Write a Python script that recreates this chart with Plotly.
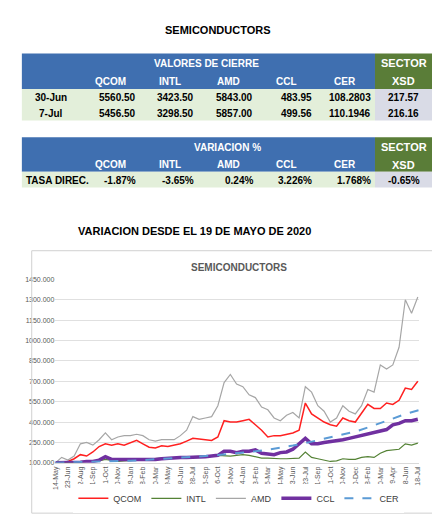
import plotly.graph_objects as go
import pandas as pd

W, H = 440, 518
cols = ["QCOM", "INTL", "AMD", "CCL", "CER"]
row_labels = ["30-Jun", "7-Jul"]
vals_30jun = ["5560.50", "3423.50", "5843.00", "483.95", "108.2803"]
vals_7jul = ["5456.50", "3298.50", "5857.00", "499.56", "110.1946"]
xsd_vals = ["217.57", "216.16"]
var_vals = ["-1.87%", "-3.65%", "0.24%", "3.226%", "1.768%"]
xsd_var = "-0.65%"

amd = [100,140,120,150,240,250,230,270,320,270,290,300,300,310,300,270,260,270,270,270,300,340,440,420,430,440,520,690,750,680,660,600,580,510,490,430,410,450,470,430,660,620,520,480,400,430,520,480,460,520,640,620,820,790,820,950,1300,1200,1320]
qcom = [100,105,110,130,160,150,180,220,240,230,240,230,250,265,240,215,210,225,220,230,240,260,280,275,270,265,290,410,400,400,410,420,380,340,290,300,300,310,320,340,540,460,430,400,380,370,430,410,400,470,530,500,500,540,530,560,650,640,700]
intl = [100,100,100,105,105,110,110,115,125,115,110,115,115,120,125,130,130,135,135,140,140,145,145,145,145,150,155,150,150,155,160,155,145,135,135,130,130,130,130,135,180,140,130,120,110,115,130,125,125,140,145,140,170,190,195,200,240,230,245]
ccl = [100,100,100,105,105,110,110,120,145,125,125,120,120,125,125,125,125,130,135,140,140,140,140,140,145,150,155,185,185,175,185,185,195,170,165,160,175,180,200,240,280,240,240,250,255,260,270,280,290,305,310,320,335,345,380,390,410,410,420]
cer = [100,102,105,107,110,112,115,120,125,130,135,142,150,157,165,175,185,197,210,227,245,265,285,307,330,360,390,425,460,485,510]

dates = pd.date_range("2020-05-14", periods=len(amd), freq="20D")
cer_dates = pd.date_range("2020-05-14", periods=len(cer), freq="40D")
tick_dates = pd.date_range("2020-05-14", periods=30, freq="40D")
tick_vals = [d.strftime("%Y-%m-%d") for d in tick_dates]
tick_text = [f"{d.day}-{d.strftime('%b')}" for d in tick_dates]

def px(x): return x / W
def py(y): return 1 - y / H

fig = go.Figure()
fig.add_trace(go.Scatter(x=dates, y=qcom, name="QCOM", mode="lines", line=dict(color="#ff2020", width=1.5)))
fig.add_trace(go.Scatter(x=dates, y=intl, name="INTL", mode="lines", line=dict(color="#548235", width=1.2)))
fig.add_trace(go.Scatter(x=dates, y=amd, name="AMD", mode="lines", line=dict(color="#a6a6a6", width=1.2)))
fig.add_trace(go.Scatter(x=dates, y=ccl, name="CCL", mode="lines", line=dict(color="#7030a0", width=3.5)))
fig.add_trace(go.Scatter(x=cer_dates, y=cer, name="CER", mode="lines", line=dict(color="#5b9bd5", width=2, dash="dash")))

shapes, ann = [], []
F = "Liberation Sans"
def rect(x0, y0, x1, y1, color):
    shapes.append(dict(type="rect", xref="paper", yref="paper", x0=px(x0), x1=px(x1), y0=py(y1), y1=py(y0),
                       fillcolor=color, line=dict(width=0), layer="below"))
def text(x, y, s, color="black", size=10, anchor="center"):
    ann.append(dict(xref="paper", yref="paper", x=px(x), y=py(y), text=f"<b>{s}</b>", showarrow=False,
                    xanchor=anchor, yanchor="middle", font=dict(family=F, size=size, color=color)))

BLUE, GREEN, LG, GR = "#3f6fb0", "#5a7d38", "#e3efda", "#d9dbe6"
colx = [10, 70, 130, 189, 248, 308, 368, 427]
rect(10, 42, 368, 78, BLUE); rect(368, 42, 427, 78, GREEN)
rect(10, 78, 368, 110, LG); rect(368, 78, 427, 110, GR)
text(197, 52, "VALORES DE CIERRE", "white"); text(397, 52, "SECTOR", "white", 11); text(397, 70, "XSD", "white", 11)
for i, c in enumerate(cols):
    text(colx[i+1] + 30, 70, c, "white")
for r, (lab, vals, xv) in enumerate(zip(row_labels, [vals_30jun, vals_7jul], xsd_vals)):
    yy = 87 + r * 16
    text(40, yy, lab)
    for i, v in enumerate(vals):
        text(colx[i+2] - 2, yy, v, anchor="right")
    text(397, yy, xv)
rect(10, 127, 368, 162, BLUE); rect(368, 127, 427, 162, GREEN)
rect(10, 162, 368, 178, LG); rect(368, 162, 427, 178, GR)
text(218, 137, "VARIACION %", "white"); text(397, 137, "SECTOR", "white", 11); text(397, 155, "XSD", "white", 11)
for i, c in enumerate(cols):
    text(colx[i+1] + 30, 155, c, "white")
text(12, 171, "TASA DIREC.", anchor="left")
for i, v in enumerate(var_vals):
    text(colx[i+2] - 2, 171, v, anchor="right")
text(397, 171, xsd_var)
shapes.append(dict(type="rect", xref="paper", yref="paper", x0=px(20), x1=px(428), y0=py(508), y1=py(242),
                   line=dict(color="#d0d0d0", width=1), fillcolor="rgba(0,0,0,0)"))
text(209, 18, "SEMICONDUCTORS", size=11)
text(185, 222, "VARIACION DESDE EL 19 DE MAYO DE 2020", size=11)
text(230, 259, "SEMICONDUCTORS", "#595959", 10)

fig.update_layout(
    width=W, height=H, margin=dict(l=0, r=0, t=0, b=0), paper_bgcolor="white", plot_bgcolor="white",
    shapes=shapes, annotations=ann, font=dict(family=F),
    legend=dict(orientation="h", x=px(230), xanchor="center", y=py(493), yanchor="middle",
                font=dict(size=9, color="#404040"), itemwidth=30),
    xaxis=dict(domain=[px(44), px(413)], type="date", tickmode="array", tickvals=tick_vals, ticktext=tick_text,
               tickangle=-90, tickfont=dict(size=7, color="#595959"), showgrid=False, showline=True,
               linecolor="#d9d9d9", range=[dates[0], dates[-1] + pd.Timedelta(days=5)]),
    yaxis=dict(domain=[1 - 457/H, 1 - 271/H], range=[100, 1450], tick0=100, dtick=150, tickformat=".3f",
               tickfont=dict(size=7, color="#595959"), gridcolor="#e0e0e0", zeroline=False),
)
fig.write_html("out.html")
